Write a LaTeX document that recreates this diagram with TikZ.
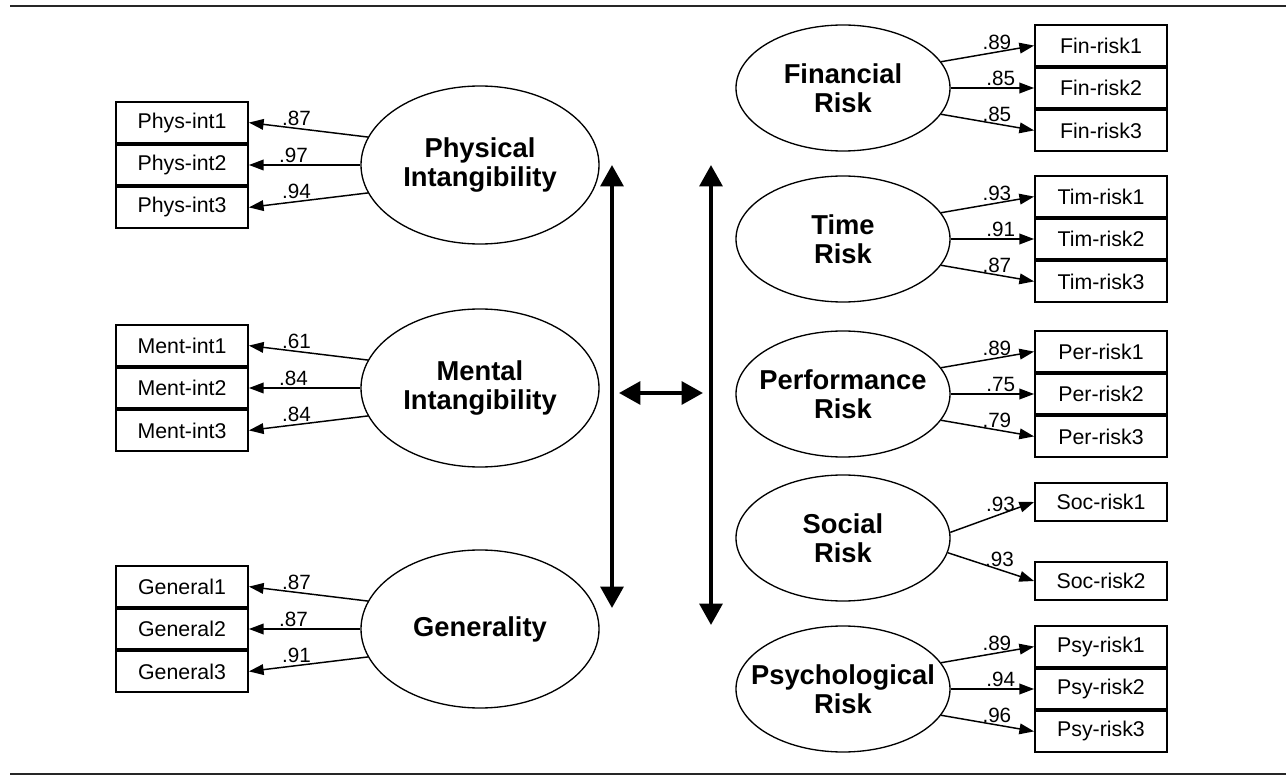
\documentclass[tikz,border=0pt]{standalone}
\usepackage{fontspec}
\setmainfont{Liberation Sans}
\usetikzlibrary{positioning,shapes.geometric,arrows.meta}

\tikzset{
  latent/.style={ellipse, draw, line width=1pt, inner sep=0pt},
  leftlat/.style={latent, minimum width=178.5pt, minimum height=118.5pt},
  rightlat/.style={latent, minimum width=160.5pt, minimum height=94.5pt},
  lattext/.style={align=center, inner sep=0pt, font=\fontsize{20.5}{22}\selectfont\bfseries},
  indicator/.style={rectangle, draw, line width=1.4pt, inner sep=0pt,
    minimum width=99pt, minimum height=30.4pt, font=\fontsize{16}{18}\selectfont},
  loading/.style={-{Triangle[length=11pt,width=8pt]}, line width=1.1pt},
  coef/.style={pos=0.6, above, inner sep=1.5pt, font=\fontsize{15.5}{17}\selectfont},
  corr/.style={{Triangle[length=16pt,width=17pt]}-{Triangle[length=16pt,width=17pt]}, line width=3pt},
  rule/.style={line width=2pt, black!85}
}

\begin{document}
\begin{tikzpicture}[x=0.75pt, y=-0.75pt]
\useasboundingbox (0,0) rectangle (1286,777);

%--- Top and bottom rules ---
\coordinate (rt-l) at (10,6);   \coordinate (rt-r) at (1286,6);
\coordinate (rb-l) at (10,774); \coordinate (rb-r) at (1286,774);
\draw[rule] (rt-l) -- (rt-r);
\draw[rule] (rb-l) -- (rb-r);

%--- Physical Intangibility ---
\node[leftlat] (phys) at (480,165) {};
\node[lattext] (phys-t) at (phys) {Physical\\Intangibility};
\node[indicator] (phys2) at (182,165) {Phys-int2};
\node[indicator, above=0pt of phys2] (phys1) {Phys-int1};
\node[indicator, below=0pt of phys2] (phys3) {Phys-int3};
\draw[loading] (phys.166) -- (phys1.east) node[coef] {.87};
\draw[loading] (phys.west) -- (phys2.east) node[coef] {.97};
\draw[loading] (phys.194) -- (phys3.east) node[coef] {.94};

%--- Mental Intangibility ---
\node[leftlat] (ment) at (480,388) {};
\node[lattext] (ment-t) at (ment) {Mental\\Intangibility};
\node[indicator] (ment2) at (182,388) {Ment-int2};
\node[indicator, above=0pt of ment2] (ment1) {Ment-int1};
\node[indicator, below=0pt of ment2] (ment3) {Ment-int3};
\draw[loading] (ment.166) -- (ment1.east) node[coef] {.61};
\draw[loading] (ment.west) -- (ment2.east) node[coef] {.84};
\draw[loading] (ment.194) -- (ment3.east) node[coef] {.84};

%--- Generality ---
\node[leftlat] (gen) at (480,629) {};
\node[lattext] (gen-t) at (gen) {Generality};
\node[indicator] (gen2) at (182,629) {General2};
\node[indicator, above=0pt of gen2] (gen1) {General1};
\node[indicator, below=0pt of gen2] (gen3) {General3};
\draw[loading] (gen.166) -- (gen1.east) node[coef] {.87};
\draw[loading] (gen.west) -- (gen2.east) node[coef] {.87};
\draw[loading] (gen.194) -- (gen3.east) node[coef] {.91};

%--- Correlation arrows ---
\coordinate (cl-top) at (612,165); \coordinate (cl-bot) at (612,608);
\coordinate (cr-top) at (711,165); \coordinate (cr-bot) at (711,625);
\coordinate (ch-l) at (619,393);   \coordinate (ch-r) at (703,393);
\draw[corr] (cl-top) -- (cl-bot);
\draw[corr] (cr-top) -- (cr-bot);
\draw[corr] (ch-l) -- (ch-r);

%--- Financial Risk ---
\node[rightlat] (fin) at (843,88) {};
\node[lattext] (fin-t) at (fin) {Financial\\Risk};
\node[indicator] (fin2) at (1101,88) {Fin-risk2};
\node[indicator, above=0pt of fin2] (fin1) {Fin-risk1};
\node[indicator, below=0pt of fin2] (fin3) {Fin-risk3};
\draw[loading] (fin.15) -- (fin1.west) node[coef] {.89};
\draw[loading] (fin.east) -- (fin2.west) node[coef] {.85};
\draw[loading] (fin.-15) -- (fin3.west) node[coef] {.85};

%--- Time Risk ---
\node[rightlat] (tim) at (843,239) {};
\node[lattext] (tim-t) at (tim) {Time\\Risk};
\node[indicator] (tim2) at (1101,239) {Tim-risk2};
\node[indicator, above=0pt of tim2] (tim1) {Tim-risk1};
\node[indicator, below=0pt of tim2] (tim3) {Tim-risk3};
\draw[loading] (tim.15) -- (tim1.west) node[coef] {.93};
\draw[loading] (tim.east) -- (tim2.west) node[coef] {.91};
\draw[loading] (tim.-15) -- (tim3.west) node[coef] {.87};

%--- Performance Risk ---
\node[rightlat] (per) at (843,394) {};
\node[lattext] (per-t) at (per) {Performance\\Risk};
\node[indicator] (per2) at (1101,394) {Per-risk2};
\node[indicator, above=0pt of per2] (per1) {Per-risk1};
\node[indicator, below=0pt of per2] (per3) {Per-risk3};
\draw[loading] (per.15) -- (per1.west) node[coef] {.89};
\draw[loading] (per.east) -- (per2.west) node[coef] {.75};
\draw[loading] (per.-15) -- (per3.west) node[coef] {.79};

%--- Social Risk ---
\node[rightlat] (soc) at (843,538) {};
\node[lattext] (soc-t) at (soc) {Social\\Risk};
\node[indicator, minimum height=28.5pt] (soc1) at (1101,502) {Soc-risk1};
\node[indicator, minimum height=28.5pt] (soc2) at (1101,581) {Soc-risk2};
\draw[loading] (soc.3) -- (soc1.west) node[coef] {.93};
\draw[loading] (soc.-8) -- (soc2.west) node[coef] {.93};

%--- Psychological Risk ---
\node[rightlat] (psy) at (843,689) {};
\node[lattext] (psy-t) at (psy) {Psychological\\Risk};
\node[indicator] (psy2) at (1101,689) {Psy-risk2};
\node[indicator, above=0pt of psy2] (psy1) {Psy-risk1};
\node[indicator, below=0pt of psy2] (psy3) {Psy-risk3};
\draw[loading] (psy.15) -- (psy1.west) node[coef] {.89};
\draw[loading] (psy.east) -- (psy2.west) node[coef] {.94};
\draw[loading] (psy.-15) -- (psy3.west) node[coef] {.96};

\end{tikzpicture}
\end{document}
